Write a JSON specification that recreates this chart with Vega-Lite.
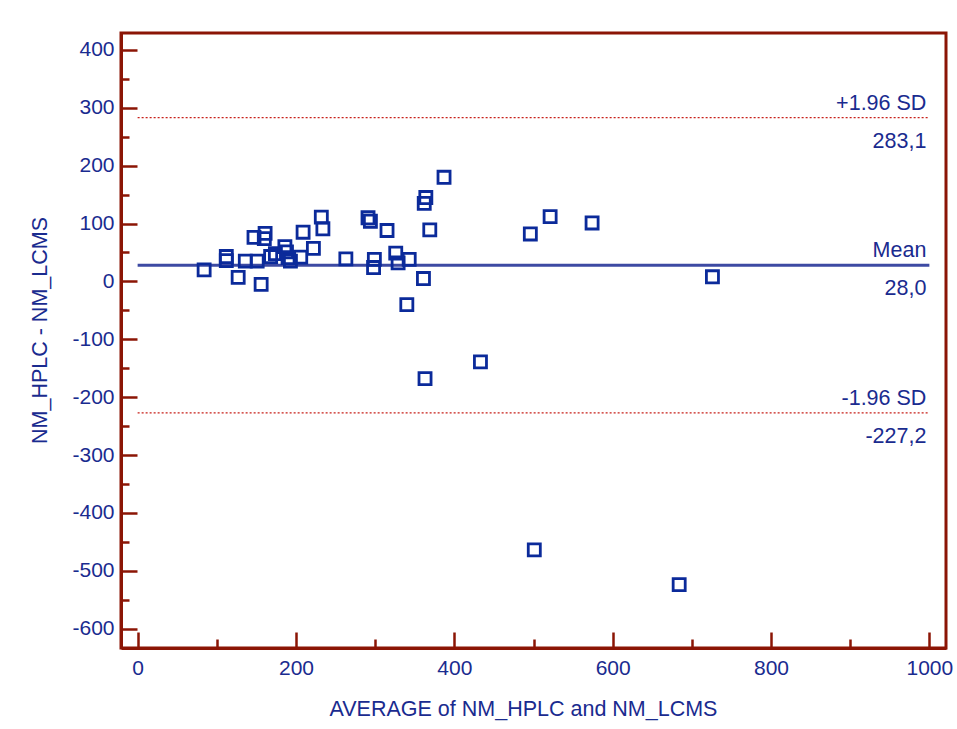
{
  "$schema": "https://vega.github.io/schema/vega-lite/v6.json",
  "autosize": {"type": "none"},
  "width": 825,
  "height": 615,
  "padding": {"left": 121, "top": 33, "right": 11, "bottom": 81},
  "background": "white",
  "config": {
    "view": {"stroke": "#8b1505", "strokeWidth": 3},
    "font": "Liberation Sans",
    "axis": {"grid": false, "labelFont": "Liberation Sans", "titleFont": "Liberation Sans", "labelColor": "#1a2b8f", "titleColor": "#1a2b8f", "titleFontWeight": "normal", "labelFontSize": 21, "titleFontSize": 21.5, "domainColor": "#8b1505", "domainWidth": 3, "tickColor": "#8b1505", "tickWidth": 2.5}
  },
  "datasets": {
    "pts": [
      {"avg": 84, "diff": 20}, {"avg": 112, "diff": 43}, {"avg": 112, "diff": 36}, {"avg": 127, "diff": 7},
      {"avg": 136, "diff": 35}, {"avg": 151, "diff": 35}, {"avg": 156, "diff": -5}, {"avg": 147, "diff": 76},
      {"avg": 161, "diff": 83}, {"avg": 160, "diff": 74}, {"avg": 168, "diff": 43}, {"avg": 174, "diff": 48},
      {"avg": 186, "diff": 60}, {"avg": 188, "diff": 51}, {"avg": 190, "diff": 41}, {"avg": 193, "diff": 35},
      {"avg": 206, "diff": 42}, {"avg": 209, "diff": 85}, {"avg": 222, "diff": 57}, {"avg": 232, "diff": 111},
      {"avg": 234, "diff": 91}, {"avg": 263, "diff": 39}, {"avg": 291, "diff": 110}, {"avg": 294, "diff": 104},
      {"avg": 315, "diff": 88}, {"avg": 299, "diff": 38}, {"avg": 298, "diff": 24}, {"avg": 326, "diff": 49},
      {"avg": 329, "diff": 32}, {"avg": 343, "diff": 38}, {"avg": 369, "diff": 89}, {"avg": 362, "diff": 135},
      {"avg": 364, "diff": 145}, {"avg": 387, "diff": 180}, {"avg": 361, "diff": 5}, {"avg": 340, "diff": -40},
      {"avg": 433, "diff": -139}, {"avg": 363, "diff": -168}, {"avg": 501, "diff": -464}, {"avg": 684, "diff": -524},
      {"avg": 726, "diff": 8}, {"avg": 496, "diff": 82}, {"avg": 521, "diff": 112}, {"avg": 574, "diff": 101}
    ],
    "lines": [
      {"name": "+1.96 SD", "value": 283.1, "valueText": "283,1", "kind": "sd", "x0": 0, "x1": 1000},
      {"name": "Mean", "value": 28.0, "valueText": "28,0", "kind": "mean", "x0": 0, "x1": 1000},
      {"name": "-1.96 SD", "value": -227.2, "valueText": "-227,2", "kind": "sd", "x0": 0, "x1": 1000}
    ]
  },
  "resolve": {"axis": {"x": "independent", "y": "independent"}},
  "layer": [
    {
      "layer": [
        {
          "data": {"name": "lines"},
          "transform": [{"filter": "datum.kind == 'sd'"}],
          "mark": {"type": "rule", "color": "#c8201a", "strokeWidth": 1.2, "strokeDash": [2, 2]},
          "encoding": {
            "x": {"field": "x0", "type": "quantitative"},
            "x2": {"field": "x1"},
            "y": {"field": "value", "type": "quantitative"}
          }
        },
        {
          "data": {"name": "lines"},
          "transform": [{"filter": "datum.kind == 'mean'"}],
          "mark": {"type": "rule", "color": "#3d4aa3", "strokeWidth": 3},
          "encoding": {
            "x": {"field": "x0", "type": "quantitative"},
            "x2": {"field": "x1"},
            "y": {"field": "value", "type": "quantitative"}
          }
        },
        {
          "data": {"name": "lines"},
          "mark": {"type": "text", "align": "right", "baseline": "middle", "dy": -14, "dx": -3, "fontSize": 21.5, "color": "#1a2b8f", "font": "Liberation Sans"},
          "encoding": {
            "x": {"field": "x1", "type": "quantitative"},
            "y": {"field": "value", "type": "quantitative"},
            "text": {"field": "name"}
          }
        },
        {
          "data": {"name": "lines"},
          "mark": {"type": "text", "align": "right", "baseline": "middle", "dy": 24, "dx": -3, "fontSize": 21.5, "color": "#1a2b8f", "font": "Liberation Sans"},
          "encoding": {
            "x": {"field": "x1", "type": "quantitative"},
            "y": {"field": "value", "type": "quantitative"},
            "text": {"field": "valueText"}
          }
        },
        {
          "data": {"name": "pts"},
          "mark": {"type": "point", "shape": "square", "filled": false, "size": 145, "stroke": "#0b2a9a", "strokeWidth": 2.8, "opacity": 1},
          "encoding": {
            "x": {"field": "avg", "type": "quantitative",
              "scale": {"domain": [-21, 1021], "nice": false, "zero": false},
              "axis": {"title": "AVERAGE of NM_HPLC and NM_LCMS", "values": [0, 200, 400, 600, 800, 1000], "labelExpr": "'' + datum.value", "tickSize": -16, "labelPadding": 25, "titlePadding": 20, "titleX": 402, "orient": "bottom"}},
            "y": {"field": "diff", "type": "quantitative",
              "scale": {"domain": [-633.5, 429.3], "nice": false, "zero": false},
              "axis": {"title": "NM_HPLC - NM_LCMS", "values": [400, 300, 200, 100, 0, -100, -200, -300, -400, -500, -600], "labelExpr": "'' + datum.value", "tickSize": -16, "labelPadding": 23, "titlePadding": 20, "titleY": 297, "orient": "left"}}
          }
        }
      ]
    },
    {
      "data": {"name": "pts"},
      "mark": {"type": "point", "opacity": 0},
      "encoding": {
        "x": {"field": "avg", "type": "quantitative",
          "scale": {"domain": [-21, 1021], "nice": false, "zero": false},
          "axis": {"orient": "bottom", "values": [100, 300, 500, 700, 900], "tickSize": -9, "labels": false, "domain": false, "title": null}},
        "y": {"field": "diff", "type": "quantitative",
          "scale": {"domain": [-633.5, 429.3], "nice": false, "zero": false},
          "axis": {"orient": "left", "values": [350, 250, 150, 50, -50, -150, -250, -350, -450, -550], "tickSize": -8, "labels": false, "domain": false, "title": null}}
      }
    }
  ]
}
